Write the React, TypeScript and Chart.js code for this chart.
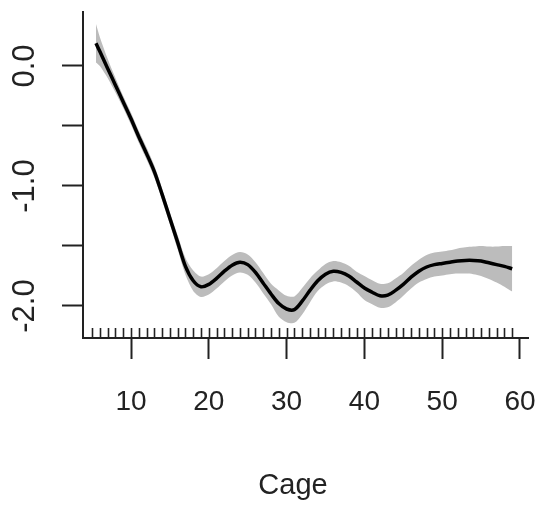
import React, { useEffect, useRef } from "react";
import { Chart, registerables } from "chart.js";

Chart.register(...registerables);

// Smooth term for Cage with confidence band
const cage = [
  5.5, 6, 7, 8, 9, 10, 11, 12, 13, 14, 15, 16, 17, 18, 19, 20, 21, 22, 23, 24,
  25, 26, 27, 28, 29, 30, 31, 32, 33, 34, 35, 36, 37, 38, 39, 40, 41, 42, 43,
  44, 45, 46, 47, 48, 49, 50, 51, 52, 53, 54, 55, 56, 57, 58, 59,
];
const fit = [
  0.19, 0.12, -0.02, -0.16, -0.3, -0.44, -0.59, -0.73, -0.88, -1.07, -1.27,
  -1.47, -1.67, -1.79, -1.84, -1.82, -1.77, -1.71, -1.66, -1.635, -1.655,
  -1.72, -1.81, -1.9, -1.98, -2.025, -2.03, -1.96, -1.87, -1.79, -1.735, -1.71,
  -1.72, -1.75, -1.8, -1.85, -1.885, -1.915, -1.91, -1.87, -1.82, -1.76, -1.71,
  -1.675, -1.655, -1.645, -1.635, -1.625, -1.62, -1.62, -1.625, -1.64, -1.655,
  -1.67, -1.69,
];
const upper = [
  0.35, 0.24, 0.06, -0.1, -0.25, -0.39, -0.54, -0.68, -0.83, -1.02, -1.22,
  -1.41, -1.6, -1.705, -1.755, -1.735, -1.685, -1.625, -1.575, -1.55, -1.57,
  -1.635, -1.725, -1.815, -1.87, -1.915, -1.92, -1.85, -1.77, -1.705, -1.65,
  -1.625, -1.635, -1.665, -1.715, -1.75, -1.785, -1.815, -1.81, -1.77, -1.725,
  -1.665, -1.615, -1.575, -1.555, -1.545, -1.535, -1.52, -1.51, -1.505, -1.5,
  -1.505, -1.505, -1.5, -1.5,
];
const lower = [
  0.03, 0.0, -0.1, -0.22, -0.35, -0.49, -0.64, -0.78, -0.93, -1.12, -1.32,
  -1.53, -1.74, -1.875, -1.925, -1.905, -1.855, -1.795, -1.745, -1.72, -1.74,
  -1.805, -1.895, -1.985, -2.09, -2.135, -2.14, -2.07, -1.97, -1.875, -1.82,
  -1.795, -1.805, -1.835, -1.885, -1.95, -1.985, -2.015, -2.01, -1.97, -1.915,
  -1.855, -1.805, -1.775, -1.755, -1.745, -1.735, -1.73, -1.73, -1.735, -1.75,
  -1.775, -1.805, -1.84, -1.88,
];
// rug of observed Cage values
const rugCage = [
  5, 6, 7, 8, 9, 10, 11, 12, 13, 14, 15, 16, 17, 18, 19, 20, 21, 22, 23, 24,
  25, 26, 27, 28, 29, 30, 31, 32, 33, 34, 35, 36, 37, 38, 39, 40, 41, 42, 43,
  44, 45, 46, 47, 48, 49, 50, 51, 52, 53, 54, 55, 56, 57, 58, 59,
];
const xTicks = [10, 20, 30, 40, 50, 60];
const xTickText = ["10", "20", "30", "40", "50", "60"];
const yTicks = [0, -0.5, -1, -1.5, -2];
const yLabelValues = [0, -1, -2];
const yLabelText = ["0.0", "-1.0", "-2.0"];
const xTitle = "Cage";

const FONT = "'Liberation Sans', Arial, Helvetica, sans-serif";
const INK = "#222222";

export default function App() {
  const ref = useRef<HTMLCanvasElement | null>(null);

  useEffect(() => {
    document.body.style.margin = "0";
    const canvas = ref.current;
    if (!canvas) return;
    const pts = (arr: number[]) => cage.map((c, i) => ({ x: c, y: arr[i] }));

    const rStyle = {
      id: "rStyle",
      afterDatasetsDraw(chart: any) {
        const { ctx, chartArea, scales } = chart;
        ctx.save();
        ctx.strokeStyle = INK;
        ctx.lineWidth = 1.6;
        for (const v of rugCage) {
          const px = Math.round(scales.x.getPixelForValue(v)) + 0.5;
          ctx.beginPath();
          ctx.moveTo(px, chartArea.bottom - 10);
          ctx.lineTo(px, chartArea.bottom);
          ctx.stroke();
        }
        ctx.restore();
      },
      afterDraw(chart: any) {
        const { ctx, scales, chartArea } = chart;
        ctx.save();
        ctx.fillStyle = INK;
        // y tick labels, rotated as in R (las = 0)
        ctx.font = `31px ${FONT}`;
        ctx.textAlign = "center";
        ctx.textBaseline = "middle";
        yLabelValues.forEach((v, i) => {
          const py = scales.y.getPixelForValue(v);
          ctx.save();
          ctx.translate(25, py);
          ctx.rotate(-Math.PI / 2);
          ctx.fillText(yLabelText[i], 0, 0);
          ctx.restore();
        });
        // x tick labels
        ctx.font = `28px ${FONT}`;
        ctx.textBaseline = "alphabetic";
        xTicks.forEach((v, i) => {
          const px = scales.x.getPixelForValue(v);
          ctx.fillText(xTickText[i], px, chartArea.bottom + 72);
        });
        // x axis title
        ctx.font = `29px ${FONT}`;
        ctx.fillText(xTitle, 293, 494);
        ctx.restore();
      },
    };

    const axisGrid = {
      drawOnChartArea: false,
      drawTicks: true,
      tickLength: 21,
      tickWidth: 2,
      tickColor: INK,
    };

    const chart = new Chart(canvas, {
      type: "line",
      data: {
        datasets: [
          {
            label: "fit",
            data: pts(fit),
            borderColor: "#000000",
            borderWidth: 3.5,
            pointRadius: 0,
            tension: 0.3,
            fill: false,
          },
          {
            label: "upper",
            data: pts(upper),
            borderColor: "rgba(0,0,0,0)",
            borderWidth: 1,
            pointRadius: 0,
            tension: 0.3,
            fill: false,
          },
          {
            label: "lower",
            data: pts(lower),
            borderColor: "rgba(0,0,0,0)",
            borderWidth: 1,
            pointRadius: 0,
            tension: 0.3,
            fill: "-1",
            backgroundColor: "#bcbcbc",
          },
        ],
      },
      options: {
        responsive: false,
        animation: false,
        layout: { padding: { top: 12, right: 12, left: 0, bottom: 0 } },
        plugins: {
          legend: { display: false },
          tooltip: { enabled: false },
          filler: { drawTime: "beforeDatasetsDraw" },
        } as any,
        scales: {
          x: {
            type: "linear",
            min: 3.83,
            max: 61.03,
            afterBuildTicks: (s: any) => {
              s.ticks = xTicks.map((v) => ({ value: v }));
            },
            afterFit: (s: any) => {
              s.height = 170;
            },
            grid: axisGrid,
            border: { display: true, color: INK, width: 2 },
            ticks: { display: false },
          },
          y: {
            type: "linear",
            min: -2.2667,
            max: 0.45,
            afterBuildTicks: (s: any) => {
              s.ticks = yTicks.map((v) => ({ value: v }));
            },
            afterFit: (s: any) => {
              s.width = 83;
            },
            grid: axisGrid,
            border: { display: true, color: INK, width: 2 },
            ticks: { display: false },
          },
        },
      } as any,
      plugins: [rStyle],
    });
    return () => chart.destroy();
  }, []);

  return (
    <div style={{ width: 540, height: 508 }}>
      <canvas ref={ref} width={540} height={508} />
    </div>
  );
}
